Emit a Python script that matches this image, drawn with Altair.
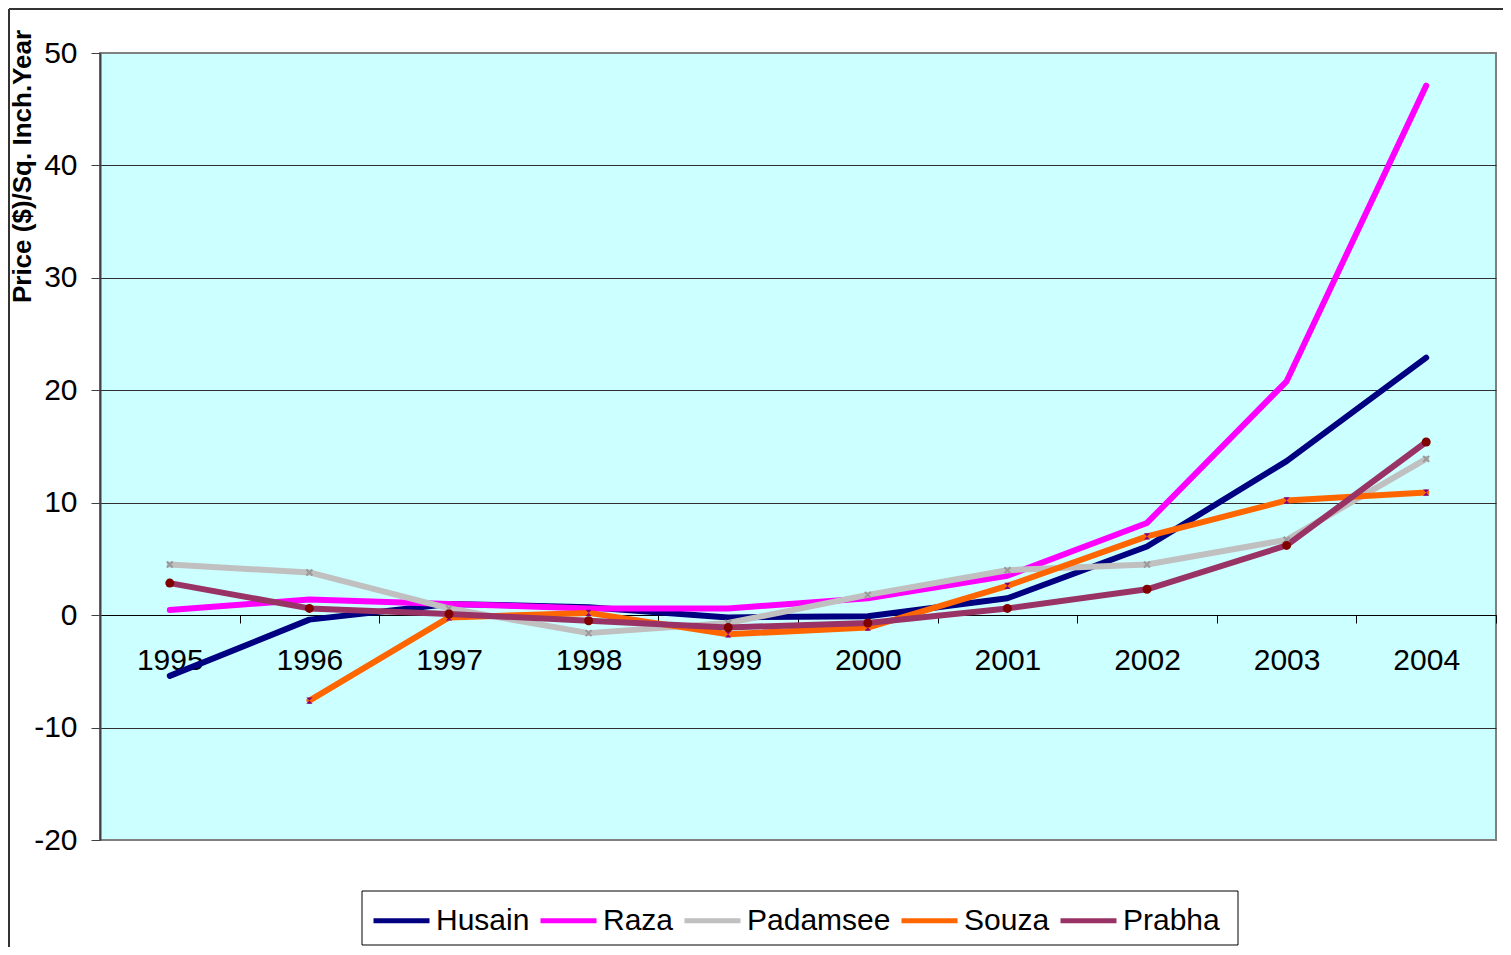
import altair as alt
import pandas as pd

years = [1995, 1996, 1997, 1998, 1999, 2000, 2001, 2002, 2003, 2004]
artists = ["Husain", "Raza", "Padamsee", "Souza", "Prabha"]
husain = [-5.4, -0.4, 1.0, 0.7, -0.2, -0.1, 1.5, 6.1, 13.7, 22.9]
raza = [0.45, 1.4, 1.0, 0.6, 0.6, 1.5, 3.5, 8.2, 20.8, 47.1]
padamsee = [4.5, 3.8, 0.6, -1.6, -0.7, 1.8, 4.0, 4.5, 6.7, 13.9]
souza = [None, -7.6, -0.2, 0.2, -1.7, -1.1, 2.6, 7.0, 10.2, 10.9]
prabha = [2.85, 0.6, 0.1, -0.5, -1.1, -0.7, 0.6, 2.3, 6.2, 15.4]
line_colors = ["#000080", "#FF00FF", "#C0C0C0", "#FF6600", "#993366"]
y_ticks = [-20, -10, 0, 10, 20, 30, 40, 50]

rows = []
for name, vals in zip(artists, [husain, raza, padamsee, souza, prabha]):
    for yr, v in zip(years, vals):
        if v is not None:
            rows.append({"Year": yr, "Artist": name, "Value": v})
df = pd.DataFrame(rows)

FONT = "Liberation Sans"
W, H = 1396, 787

x_enc = alt.X(
    "Year:O",
    bandPosition=0.5,
    scale=alt.Scale(type="band", paddingInner=0, paddingOuter=0),
    axis=alt.Axis(
        title=None, orient="bottom", offset=-225, labelAngle=0,
        labelFontSize=30, labelFont=FONT, labelColor="black",
        labelPadding=22, tickBand="extent", tickSize=8,
        tickColor="black", domainColor="black", domainWidth=1, grid=False,
    ),
)
y_enc = alt.Y(
    "Value:Q",
    scale=alt.Scale(domain=[-20, 50], nice=False, zero=False),
    axis=alt.Axis(
        values=y_ticks, title="Price ($)/Sq. Inch.Year",
        labelExpr="datum.value + ''",
        titleFontSize=26, titleFont=FONT, titleFontWeight="bold",
        titleColor="black", titleAngle=270, titleAlign="center",
        titleBaseline="middle", titleX=-78, titleY=113,
        labelFontSize=30, labelFont=FONT, labelColor="black",
        labelPadding=14, tickSize=9, tickColor="#404040",
        domainColor="#404040", domainWidth=2,
        grid=True, gridWidth=1,
        gridColor=alt.condition("datum.value == 50 || datum.value == -20",
                                alt.value("#808080"), alt.value("#303030")),
    ),
)

base = alt.Chart(df)

lines = base.mark_line(strokeWidth=6, strokeCap="round", strokeJoin="round").encode(
    x=x_enc,
    y=y_enc,
    color=alt.Color(
        "Artist:N",
        sort=artists,
        scale=alt.Scale(domain=artists, range=line_colors),
        legend=alt.Legend(
            title=None, orient="none", legendX=271, legendY=837,
            direction="horizontal", columns=5, symbolType="stroke",
            symbolStrokeWidth=5, symbolSize=3136, labelFontSize=30,
            labelFont=FONT, labelColor="black", labelOffset=4,
            columnPadding=0, padding=0, labelLimit=0,
        ),
    ),
)

pad_pts = base.transform_filter(alt.datum.Artist == "Padamsee").mark_point(
    shape="M-1,-1L1,1M1,-1L-1,1", size=36, stroke="#999999",
    strokeWidth=2, filled=False, opacity=1,
).encode(x=x_enc, y=y_enc)

souza_pts = base.transform_filter(alt.datum.Artist == "Souza").mark_point(
    shape="M-1,-1L1,-1L-1,1L1,1Z", size=40, color="#800080",
    filled=True, opacity=1,
).encode(x=x_enc, y=y_enc)

prabha_pts = base.transform_filter(alt.datum.Artist == "Prabha").mark_circle(
    size=81, color="#800000", opacity=1,
).encode(x=x_enc, y=y_enc)

one = pd.DataFrame({"a": [0]})
border_left = alt.Chart(one).mark_rule(
    color="#333333", strokeWidth=2, clip=False
).encode(x=alt.value(-91), y=alt.value(-44), y2=alt.value(H + 107))
border_top = alt.Chart(one).mark_rule(
    color="#333333", strokeWidth=2, clip=False
).encode(y=alt.value(-44), x=alt.value(-91), x2=alt.value(W + 7))
legend_box = alt.Chart(one).mark_rect(
    fill="white", stroke="black", strokeWidth=1, clip=False
).encode(x=alt.value(262), x2=alt.value(1138), y=alt.value(838), y2=alt.value(892))

chart = alt.layer(
    lines, pad_pts, souza_pts, prabha_pts, border_left, border_top, legend_box
).properties(
    width=W, height=H,
    autosize=alt.AutoSizeParams(type="none"),
    padding={"left": 92, "top": 45, "right": 7, "bottom": 107},
    background="white",
).configure(
    font=FONT,
).configure_view(
    fill="#CCFFFF", stroke="#808080", strokeWidth=2,
)

chart.save("out.html", embed_options={"renderer": "svg", "actions": False})
